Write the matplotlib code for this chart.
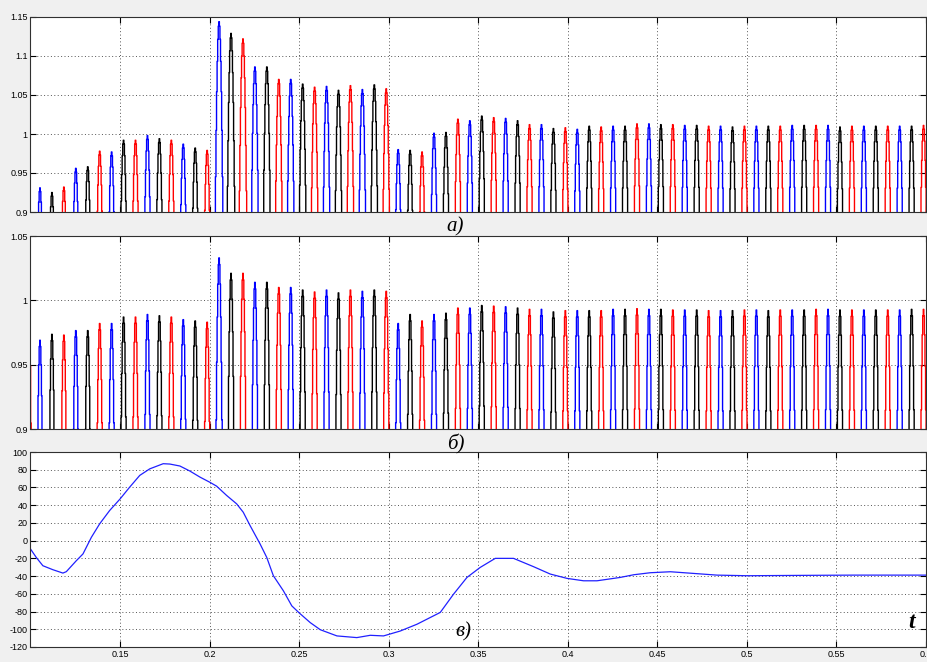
import numpy as np
import matplotlib
matplotlib.use("Agg")
import matplotlib.pyplot as plt

# ---- data -------------------------------------------------------------
F_NET = 50.0                 # supply frequency, Hz
T_FIRST_PEAK = 0.1053        # time of the first positive peak, s
PHASE_COLORS = ["#0000ff", "#000000", "#ff0000"]   # A, B, C

# successive positive peaks of the three phases (A, B, C, A, B, C, ...)
peaks_a = [0.931, 0.925, 0.932, 0.956, 0.958, 0.978, 0.977, 0.992, 0.992,
           0.998, 0.994, 0.992, 0.987, 0.982, 0.979,
           1.144, 1.129, 1.122, 1.086, 1.086, 1.070, 1.070, 1.064, 1.060,
           1.061, 1.056, 1.062, 1.057, 1.063, 1.058,
           0.980, 0.979, 0.977, 1.001, 1.002, 1.019, 1.017, 1.023, 1.021,
           1.020, 1.017, 1.012, 1.012, 1.007, 1.008, 1.006, 1.010, 1.009,
           1.010, 1.010, 1.013, 1.013, 1.012, 1.012, 1.011, 1.011, 1.010,
           1.010, 1.009, 1.010, 1.010, 1.010, 1.010, 1.011, 1.011, 1.011,
           1.011, 1.009, 1.010, 1.010, 1.010, 1.010, 1.010, 1.010, 1.011]
peaks_b = [0.969, 0.9736, 0.973, 0.9765, 0.9765, 0.982, 0.982, 0.987, 0.987,
           0.989, 0.988, 0.987, 0.985, 0.984, 0.983,
           1.033, 1.021, 1.021, 1.014, 1.014, 1.010, 1.010, 1.008, 1.0065,
           1.008, 1.0058, 1.008, 1.007, 1.008, 1.007,
           0.982, 0.989, 0.984, 0.989, 0.990, 0.994, 0.994, 0.996, 0.9955,
           0.995, 0.994, 0.993, 0.993, 0.991, 0.992, 0.992, 0.992, 0.992,
           0.993, 0.993, 0.9935, 0.993, 0.993, 0.9925, 0.9925, 0.9925, 0.992,
           0.992, 0.992, 0.9925, 0.9925, 0.992, 0.9925, 0.9925, 0.9925, 0.993,
           0.993, 0.9925, 0.9925, 0.9925, 0.9925, 0.9925, 0.9925, 0.993, 0.993]
# peak of phase C just before the plotted window
pre_peak_a = 0.93
pre_peak_b = 1.03

# control signal (bottom panel)
ctrl_t = [0.1000, 0.1032, 0.1069, 0.1125, 0.1181, 0.1200, 0.1256, 0.1293,
          0.1340, 0.1386, 0.1442, 0.1500, 0.1554, 0.1610, 0.1666, 0.1741,
          0.1778, 0.1834, 0.1890, 0.1946, 0.2000, 0.2039, 0.2095, 0.2151,
          0.2188, 0.2226, 0.2282, 0.2319, 0.2356, 0.2412, 0.2459, 0.2500,
          0.2562, 0.2618, 0.2711, 0.2822, 0.2897, 0.2971, 0.3064, 0.3158,
          0.3288, 0.3362, 0.3437, 0.3511, 0.3595, 0.3697, 0.3809, 0.3902,
          0.3996, 0.4088, 0.4163, 0.4293, 0.4368, 0.4461, 0.4573, 0.4703,
          0.4833, 0.5001, 0.5300, 0.5600, 0.6000]
ctrl_v = [-9.4, -18.9, -28.3, -32.8, -36.6, -35.0, -22.6, -15.0,
          3.8, 18.9, 34.0, 47.0, 60.4, 73.6, 81.0, 86.8,
          86.4, 84.2, 78.5, 71.7, 66.0, 61.5, 51.0, 41.5,
          32.0, 17.0, -3.8, -18.9, -39.6, -56.6, -73.6, -81.5,
          -92.5, -100.5, -107.5, -109.4, -106.8, -107.5, -102.0, -94.3,
          -81.0, -60.4, -41.5, -30.2, -20.0, -20.0, -29.4, -37.7,
          -42.6, -45.3, -45.3, -41.5, -38.5, -36.2, -35.1, -37.0,
          -38.9, -39.6, -39.2, -38.9, -38.9]

x_ticks = [0.15, 0.2, 0.25, 0.3, 0.35, 0.4, 0.45, 0.5, 0.55, 0.6]
yticks_a = [0.9, 0.95, 1.0, 1.05, 1.1, 1.15]
yticks_b = [0.9, 0.95, 1.0, 1.05]
yticks_c = [-120, -100, -80, -60, -40, -20, 0, 20, 40, 60, 80, 100]

SAMPLES_PER_PEAK_GAP = 21    # solver output points between successive peaks


# ---- helpers ----------------------------------------------------------
def phase_waves(peaks, pre_peak):
    """Sampled phase voltages rebuilt cycle by cycle from their peak values."""
    period = 1.0 / F_NET
    dt = period / 3 / SAMPLES_PER_PEAK_GAP
    n0 = int(np.ceil((T_FIRST_PEAK - 0.09) / dt))
    t = T_FIRST_PEAK + np.arange(-n0, int((0.61 - T_FIRST_PEAK) / dt)) * dt
    amps_all = [pre_peak] + list(peaks)
    times_all = T_FIRST_PEAK + (np.arange(len(amps_all)) - 1) / (3 * F_NET)
    waves = []
    for p in range(3):
        idx = [i for i in range(len(amps_all)) if (i - 1) % 3 == p]
        tk = times_all[idx]
        ak = np.array(amps_all)[idx]
        k = np.clip(np.round((t - tk[0]) / period).astype(int), 0, len(tk) - 1)
        v = ak[k] * np.cos(2 * np.pi * F_NET * (t - tk[k]))
        waves.append((t, v))
    return waves


def style_axes(ax, yticks, show_x):
    ax.set_xlim(0.1, 0.6)
    ax.set_ylim(yticks[0], yticks[-1])
    ax.set_xticks(x_ticks)
    ax.set_yticks(yticks)
    ax.set_yticklabels(["%g" % v for v in yticks])
    if show_x:
        ax.set_xticklabels(["%g" % v for v in x_ticks])
    else:
        ax.set_xticklabels([])
    ax.tick_params(direction="in", length=4, width=0.8, top=True, right=True,
                   labelsize=6.5, pad=2, colors="#000000")
    for lab in ax.get_xticklabels() + ax.get_yticklabels():
        lab.set_fontfamily("Liberation Sans")
    ax.grid(True, color="#555555", linestyle=(0, (1, 2.5)), linewidth=0.7)
    for s in ax.spines.values():
        s.set_color("#303030")
        s.set_linewidth(0.8)
    ax.set_facecolor("white")
    ax.set_axisbelow(True)


# ---- figure -----------------------------------------------------------
fig = plt.figure(figsize=(9.28, 6.62), dpi=100, facecolor="#f0f0f0")
W, H = 928.0, 662.0
left, right = 30.5, 926.0


def add_ax(top, bottom):
    return fig.add_axes([left / W, 1 - bottom / H, (right - left) / W,
                         (bottom - top) / H])


ax_a = add_ax(17, 212)
ax_b = add_ax(236, 429)
ax_c = add_ax(452, 647)

for ax, peaks, pre in ((ax_a, peaks_a, pre_peak_a), (ax_b, peaks_b, pre_peak_b)):
    for (t, v), col in zip(phase_waves(peaks, pre), PHASE_COLORS):
        ax.plot(t, v, color=col, linewidth=1.0, drawstyle="steps-mid")

ax_c.plot(ctrl_t, ctrl_v, color="#2020ff", linewidth=0.9)

style_axes(ax_a, yticks_a, False)
style_axes(ax_b, yticks_b, False)
style_axes(ax_c, yticks_c, True)

lab_kw = dict(fontfamily="Liberation Serif", fontstyle="italic", fontsize=15,
              ha="center", va="center")
fig.text(455 / W, 1 - 227 / H, "а)", **lab_kw)
fig.text(456 / W, 1 - 444 / H, "б)", **lab_kw)
fig.text(463 / W, 1 - 632 / H, "в)", **lab_kw)
fig.text(912 / W, 1 - 622 / H, "t", fontfamily="Liberation Serif",
         fontstyle="italic", fontweight="bold", fontsize=17,
         ha="center", va="center")

fig.savefig("out.png", dpi=100, facecolor=fig.get_facecolor())
